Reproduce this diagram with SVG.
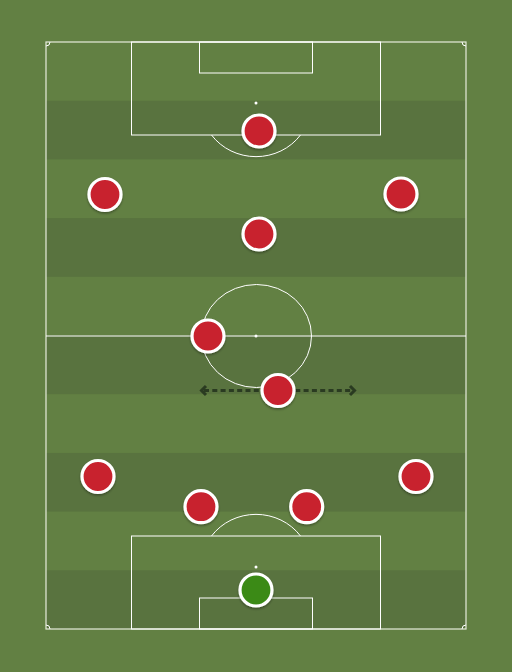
<svg xmlns="http://www.w3.org/2000/svg" width="512" height="672" viewBox="0 0 512 672">
<defs>
<filter id="sh" x="-50%" y="-50%" width="200%" height="200%">
<feDropShadow dx="0" dy="1.5" stdDeviation="1.2" flood-color="#000" flood-opacity="0.35"/>
</filter>
<style>
.ln{fill:none;stroke:#fff;stroke-width:1}
.ol{fill:none;stroke:#e6ecdc;stroke-width:1.2}
.dk{fill:#59733f}
.p{stroke:#fff;stroke-width:3.2;filter:url(#sh)}
.r{fill:#c8222e}
.g{fill:#3a8a17}
.ar{fill:none;stroke:#2a3b21;stroke-width:3}
</style>
</defs>
<rect width="512" height="672" fill="#628043"/>
<g id="stripes">
<rect class="dk" x="46" y="100.7" width="420" height="58.7"/>
<rect class="dk" x="46" y="218.1" width="420" height="58.7"/>
<rect class="dk" x="46" y="335.5" width="420" height="58.7"/>
<rect class="dk" x="46" y="452.9" width="420" height="58.7"/>
<rect class="dk" x="46" y="570.3" width="420" height="58.7"/>
</g>
<g id="pitch">
<rect class="ol" x="46" y="42" width="420" height="587"/>
<line class="ln" x1="46" y1="336" x2="466" y2="336"/>
<ellipse class="ln" cx="256.5" cy="336" rx="55" ry="51.5"/>
<circle cx="256" cy="336" r="1.5" fill="#fff"/>
<rect class="ln" x="131.5" y="42" width="249" height="93"/>
<rect class="ln" x="199.5" y="42" width="113" height="31"/>
<circle cx="256" cy="103" r="1.5" fill="#fff"/>
<path class="ln" d="M211.5,135 A55,52.5 0 0 0 300.5,135"/>
<rect class="ln" x="131.5" y="536" width="249" height="93"/>
<rect class="ln" x="199.5" y="598" width="113" height="31"/>
<circle cx="256" cy="567" r="1.5" fill="#fff"/>
<path class="ln" d="M211.5,536 A55,52.5 0 0 1 300.5,536"/>
<path class="ln" d="M46,46 A4,4 0 0 0 50,42"/>
<path class="ln" d="M462,42 A4,4 0 0 0 466,46"/>
<path class="ln" d="M46,625 A4,4 0 0 1 50,629"/>
<path class="ln" d="M462,629 A4,4 0 0 1 466,625"/>
</g>
<g id="connectors">
<line class="ar" x1="204" y1="390.5" x2="352" y2="390.5" stroke-dasharray="5,3.3"/>
<path class="ar" d="M206,386 L201.5,390.5 L206,395"/>
<path class="ar" d="M350,386 L354.5,390.5 L350,395"/>
</g>
<g id="p1"><circle class="p r" cx="259" cy="131" r="16"/></g>
<g id="p2"><circle class="p r" cx="105" cy="194.5" r="16"/></g>
<g id="p3"><circle class="p r" cx="401" cy="194" r="16"/></g>
<g id="p4"><circle class="p r" cx="259" cy="234" r="16"/></g>
<g id="p5"><circle class="p r" cx="208" cy="336" r="16"/></g>
<g id="p6"><circle class="p r" cx="278" cy="390.5" r="16"/></g>
<g id="p7"><circle class="p r" cx="98" cy="476.5" r="16"/></g>
<g id="p8"><circle class="p r" cx="416" cy="476.5" r="16"/></g>
<g id="p9"><circle class="p r" cx="201" cy="506.7" r="16"/></g>
<g id="p10"><circle class="p r" cx="306.7" cy="506.7" r="16"/></g>
<g id="gk"><circle class="p g" cx="256" cy="590" r="16"/></g>
</svg>
